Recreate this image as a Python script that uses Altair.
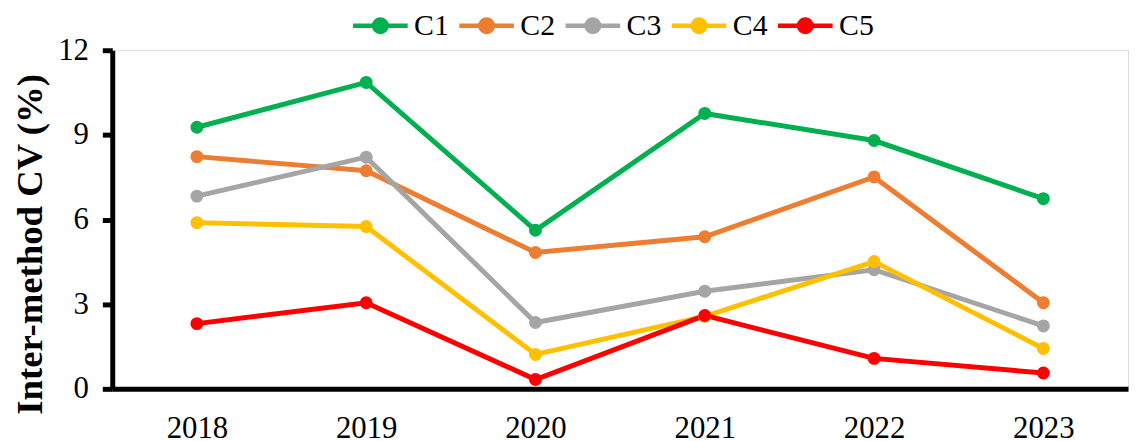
import altair as alt
import pandas as pd

years = ["2018", "2019", "2020", "2021", "2022", "2023"]
series = ["C1", "C2", "C3", "C4", "C5"]
c1 = [9.27, 10.86, 5.62, 9.76, 8.80, 6.74]
c2 = [8.23, 7.73, 4.83, 5.39, 7.51, 3.05]
c3 = [6.83, 8.21, 2.35, 3.46, 4.22, 2.23]
c4 = [5.89, 5.75, 1.22, 2.57, 4.51, 1.43]
c5 = [2.31, 3.05, 0.33, 2.60, 1.08, 0.56]
colors = ["#00B050", "#ED7D31", "#A5A5A5", "#FFC000", "#FF0000"]
y_ticks = [0, 3, 6, 9, 12]

rows = []
for name, vals in zip(series, [c1, c2, c3, c4, c5]):
    for yr, v in zip(years, vals):
        rows.append({"Year": yr, "Series": name, "CV": v})
df = pd.DataFrame(rows)

FONT = "Liberation Serif"
sym = "M-1,0L1,0M0.23,0A0.23,0.23,0,1,1,-0.23,0A0.23,0.23,0,1,1,0.23,0Z"

legend = alt.Legend(
    title=None, orient="none", direction="horizontal",
    legendX=240, legendY=-55,
    symbolType=sym, symbolSize=3025, symbolStrokeWidth=4.5,
    labelFont=FONT, labelFontSize=30, labelColor="black",
    labelOffset=4, columnPadding=0, padding=0,
)
cscale = alt.Scale(domain=series, range=colors)

x = alt.X("Year:O", sort=years,
          scale=alt.Scale(type="point", padding=0.5),
          axis=alt.Axis(title=None, labelAngle=0, ticks=False, domain=True,
                        domainColor="black", domainWidth=5,
                        labelFont=FONT, labelFontSize=31, labelColor="black",
                        labelPadding=25, grid=False))
y = alt.Y("CV:Q", scale=alt.Scale(domain=[0, 12], nice=False),
          axis=alt.Axis(title="Inter-method CV (%)", values=y_ticks, grid=False,
                        domainColor="black", domainWidth=5,
                        tickColor="black", tickWidth=5, tickSize=10,
                        labelFont=FONT, labelFontSize=31, labelColor="black",
                        labelPadding=14,
                        titleFont=FONT, titleFontSize=37, titleFontWeight="bold",
                        titleColor="black", titleX=-82, titleY=195,
                        titleAngle=270, titleAlign="center", titleBaseline="middle"))

lines = alt.Chart(df).mark_line(strokeWidth=5).encode(
    x=x, y=y,
    stroke=alt.Stroke("Series:N", scale=cscale, legend=legend),
)
points = alt.Chart(df).mark_point(filled=True, size=170, opacity=1).encode(
    x=x, y=y,
    fill=alt.Fill("Series:N", scale=cscale, legend=legend),
)

chart = alt.layer(lines, points).properties(
    width=1023, height=341,
    autosize=alt.AutoSizeParams(type="none"),
    padding={"left": 105, "top": 41, "right": 2, "bottom": 50},
).configure_view(stroke=None).configure(background="white")

chart.save("out.html", embed_options={"renderer": "svg", "actions": False})
